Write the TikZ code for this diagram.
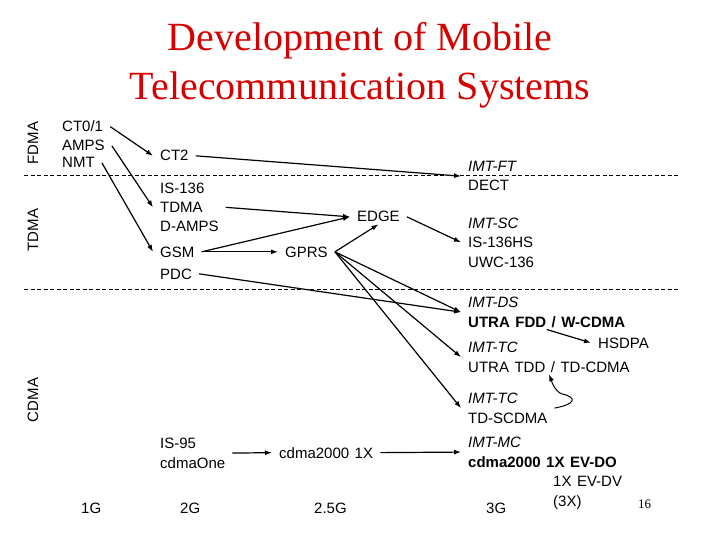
\documentclass[tikz,border=0pt]{standalone}
\usepackage{fontspec}
\setmainfont{Liberation Serif}
\setsansfont{Liberation Sans}
\usetikzlibrary{arrows.meta,positioning}

\definecolor{titlered}{RGB}{215,0,0}
\newcommand{\widespace}{\spaceskip=5.5pt\relax}

\begin{document}
\begin{tikzpicture}[
    x=1pt, y=-1pt,
    txt/.style={font=\sffamily\fontsize{15}{19.5}\selectfont\widespace, align=left, anchor=base west, inner xsep=7pt, inner ysep=2pt},
    band/.style={font=\sffamily\fontsize{15}{19}\selectfont, rotate=90, anchor=base, inner sep=0pt},
    gen/.style={font=\sffamily\fontsize{15}{19}\selectfont, anchor=base west, inner sep=0pt},
    title/.style={font=\rmfamily\fontsize{40}{49}\selectfont, text=titlered, anchor=base},
    arrow/.style={-{Latex[length=7pt,width=5pt]}, line width=1.2pt},
    sep/.style={dash pattern=on 4pt off 2.5pt, line width=0.8pt}
]
    \useasboundingbox (0,0) rectangle (720,540);

    % Title
    \node[title] (title1) at (360,51) {Development of Mobile};
    \node[title] (title2) at (360,100) {Telecommunication Systems};

    % Access bands
    \draw[sep] (24,175) -- (680,175);
    \draw[sep] (24,289) -- (680,289);
    \node[band] (fdma) at (38,143) {FDMA};
    \node[band] (tdma) at (38,230) {TDMA};
    \node[band] (cdma) at (38,400) {CDMA};

    % 1G
    \node[txt] (ct01) at (55,132) {CT0/1};
    \node[txt] (amps) at (55,151) {AMPS};
    \node[txt] (nmt) at (55,168) {NMT};

    % 2G (multi-line nodes sit on their last line)
    \node[txt] (ct2) at (153,161) {CT2};
    \node[txt] (is136) at (153,232) {IS-136\\TDMA\\D-AMPS};
    \node[txt] (gsm) at (153,257) {GSM};
    \node[txt] (pdc) at (153,279) {PDC};
    \node[txt] (is95) at (153,468) {IS-95\\cdmaOne};

    % 2.5G
    \node[txt] (gprs) at (278,257) {GPRS};
    \node[txt] (edge) at (350,222) {EDGE};
    \node[txt] (cdmax) at (272,458) {cdma2000 1X};

    % 3G
    \node[txt] (imtft) at (461,191) {\textit{IMT-FT}\\DECT};
    \node[txt] (imtsc) at (461,267) {\textit{IMT-SC}\\IS-136HS\\UWC-136};
    \node[txt] (imtds) at (461,327) {\textit{IMT-DS}\\\textbf{UTRA FDD / W-CDMA}};
    \node[txt] (hsdpa) at (591,348) {HSDPA};
    \node[txt] (imttc) at (461,372) {\textit{IMT-TC}\\UTRA TDD / TD-CDMA};
    \node[txt] (imttcs) at (461,423) {\textit{IMT-TC}\\TD-SCDMA};
    \node[txt] (imtmc) at (461,467) {\textit{IMT-MC}\\\textbf{cdma2000 1X EV-DO}};
    \node[txt] (evdv) at (546,506) {1X EV-DV\\(3X)};

    % Generations
    \node[gen] (g1) at (81,513) {1G};
    \node[gen] (g2) at (180,513) {2G};
    \node[gen] (g25) at (314,513) {2.5G};
    \node[gen] (g3) at (486,513) {3G};
    \node[gen, font=\rmfamily\fontsize{13}{15}\selectfont] (page) at (638,508) {16};

    % Arrows
    \draw[arrow] (ct01.east) -- (ct2.west);
    \draw[arrow] (amps.east) -- (is136.west);
    \draw[arrow] (nmt.east) -- (gsm.west);
    \draw[arrow] (ct2.east) -- (imtft.west);
    \draw[arrow] (is136.east) -- (edge.west);
    \draw[arrow] (gsm.east) -- (edge.west);
    \draw[arrow] (gsm.east) -- (gprs.west);
    \draw[arrow] (gprs.east) -- (edge.south);
    \draw[arrow] (edge.east) -- (imtsc.west);
    \draw[arrow] (pdc.east) -- (imtds.west);
    \draw[arrow] (gprs.east) -- (imtds.west);
    \draw[arrow] (gprs.east) -- (imttc.west);
    \draw[arrow] (gprs.east) -- (imttcs.west);
    \draw[arrow] (imtds.south) -- (hsdpa.west);
    \draw[arrow, line width=1pt] (imttcs.east) .. controls +(22,-4) and +(14,3) .. ++(8,-14)
        .. controls +(-8,-2) and +(2,5) .. (imttc.south);
    \draw[arrow] (is95.east) -- (cdmax.west);
    \draw[arrow] (cdmax.east) -- (imtmc.west);
\end{tikzpicture}
\end{document}
